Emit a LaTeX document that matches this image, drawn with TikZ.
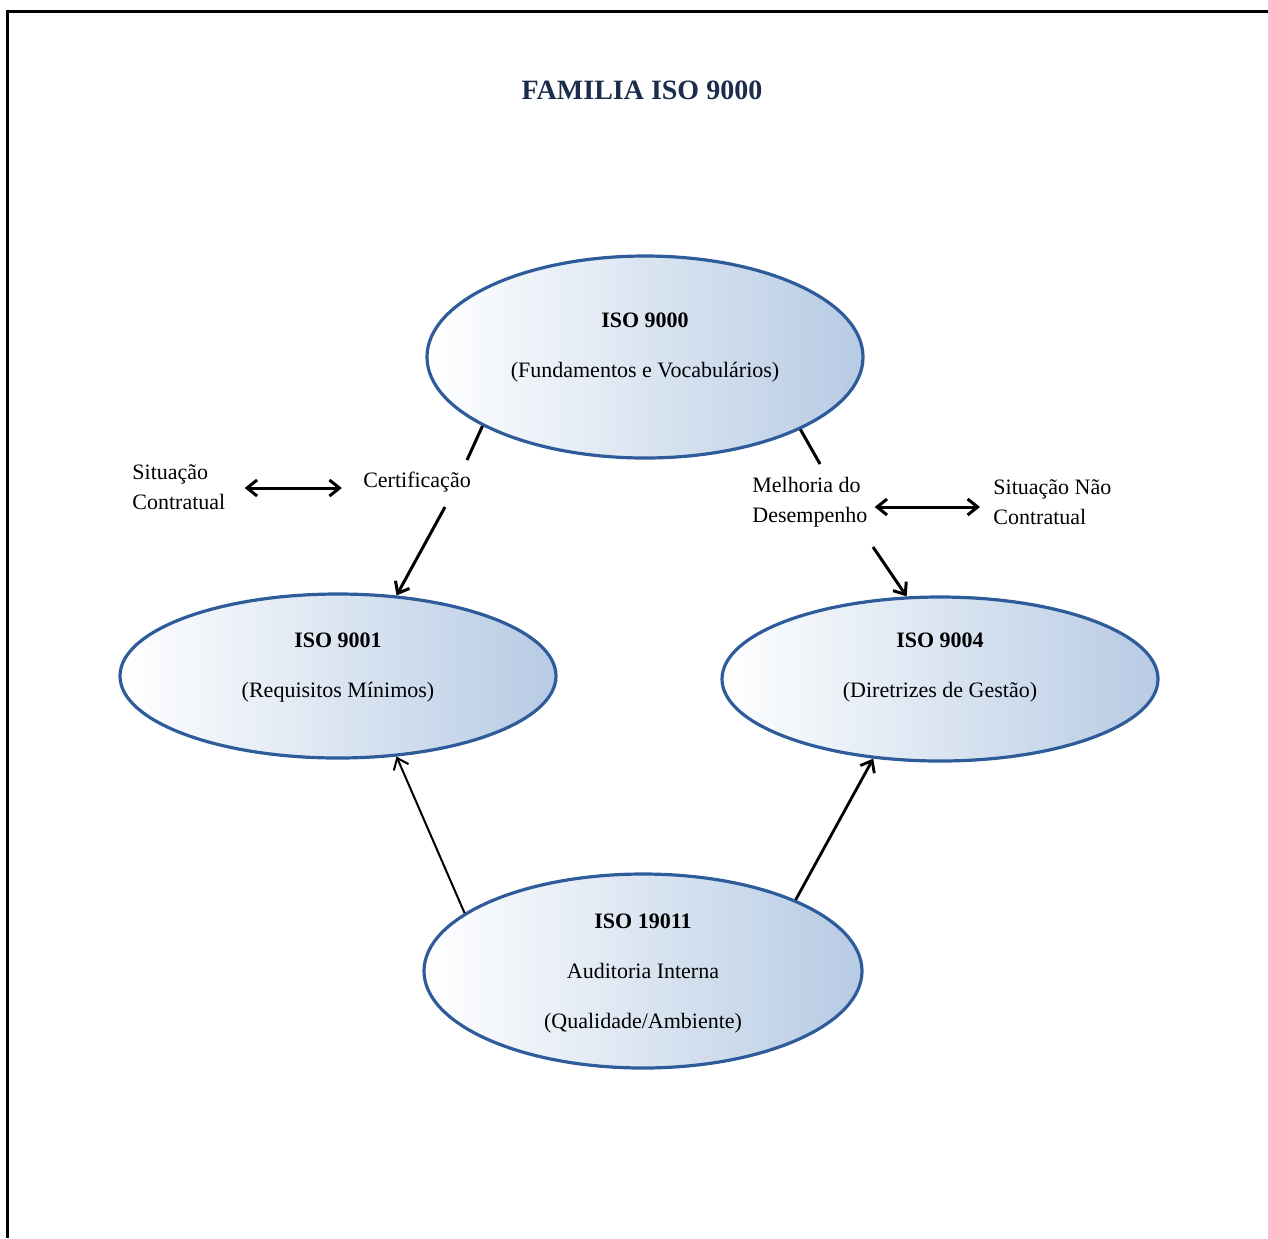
\documentclass[tikz,border=0pt]{standalone}
\usepackage{fontspec}
\setmainfont{Liberation Serif}
\usetikzlibrary{shapes.geometric,arrows.meta}

\definecolor{isoborder}{HTML}{2E5C9A}
\definecolor{isoshade}{HTML}{B7CBE4}
\definecolor{titlenavy}{HTML}{1C2C4C}

\tikzset{
  isoellipse/.style={ellipse, draw=isoborder, line width=1.6pt, left color=white, right color=isoshade, inner sep=0pt},
  isotext/.style={align=center, font=\fontsize{11pt}{25pt}\selectfont, inner sep=0pt},
  sidelabel/.style={align=left, font=\fontsize{11pt}{15pt}\selectfont, inner sep=0pt},
  >={Straight Barb[length=5pt,width=8pt]},
}

\begin{document}
\begin{tikzpicture}[x=0.5pt, y=-0.5pt]
    \useasboundingbox (0,0) rectangle (1268,1238);

    % Frame
    \draw[line width=1.5pt] (1268,11) -- (7,11) -- (7,1238);

    % Title
    \node[font=\fontsize{14pt}{17pt}\selectfont\bfseries, text=titlenavy] (title) at (642,90) {FAMILIA ISO 9000};

    % Ellipses
    \node[isoellipse, minimum width=218pt, minimum height=101pt] (iso9000) at (645,357) {};
    \node[isoellipse, minimum width=218pt, minimum height=82pt] (iso9001) at (338,676) {};
    \node[isoellipse, minimum width=218pt, minimum height=82pt] (iso9004) at (940,679) {};
    \node[isoellipse, minimum width=219pt, minimum height=97pt] (iso19011) at (643,971) {};

    % Ellipse texts
    \node[isotext] (t9000) at ([yshift=4.5pt]iso9000.center) {\textbf{ISO 9000}\\(Fundamentos e Vocabulários)};
    \node[isotext] (t9001) at ([yshift=4pt]iso9001.center) {\textbf{ISO 9001}\\(Requisitos Mínimos)};
    \node[isotext] (t9004) at ([yshift=5.5pt]iso9004.center) {\textbf{ISO 9004}\\(Diretrizes de Gestão)};
    \node[isotext] (t19011) at ([yshift=-1.5pt]iso19011.center) {\textbf{ISO 19011}\\Auditoria Interna\\(Qualidade/Ambiente)};

    % Side labels
    \node[sidelabel, anchor=west] (sitc) at (132,487) {Situação\\Contratual};
    \node[sidelabel] (cert) at (417,482) {Certificação};
    \node[sidelabel, anchor=west] (melh) at (752,502) {Melhoria do\\Desempenho};
    \node[sidelabel, anchor=west] (sitnc) at (993,502) {Situação Não\\Contratual};

    % Gaps round the labels
    \coordinate (certtop) at (467,460);
    \coordinate (certbot) at (445,507);
    \coordinate (melhtop) at (820,464);
    \coordinate (melhbot) at (873,547);

    % ISO 9000 -> ISO 9001
    \draw[line width=1.5pt] (iso9000.203) -- (certtop);
    \draw[->, line width=1.5pt] (certbot) -- (iso9001.54);

    % ISO 9000 -> ISO 9004
    \draw[line width=1.5pt] (iso9000.335) -- (melhtop);
    \draw[->, line width=1.5pt] (melhbot) -- (iso9004.112);

    % Double arrows
    \draw[<->, line width=1.5pt, shorten <=9.5pt, shorten >=10.5pt] ([yshift=-0.5pt]sitc.east) -- ([yshift=-0.5pt]sitc.east -| cert.west);
    \draw[<->, line width=1.5pt, shorten <=3.5pt, shorten >=6.5pt] ([yshift=-2.5pt]melh.east) -- ([yshift=-2.5pt]melh.east -| sitnc.west);

    % ISO 19011 -> ISO 9001 / ISO 9004
    \draw[->, line width=1pt] (iso19011.162) -- (iso9001.306);
    \draw[->, line width=1.4pt] (iso19011.25) -- (iso9004.230);

\end{tikzpicture}
\end{document}
